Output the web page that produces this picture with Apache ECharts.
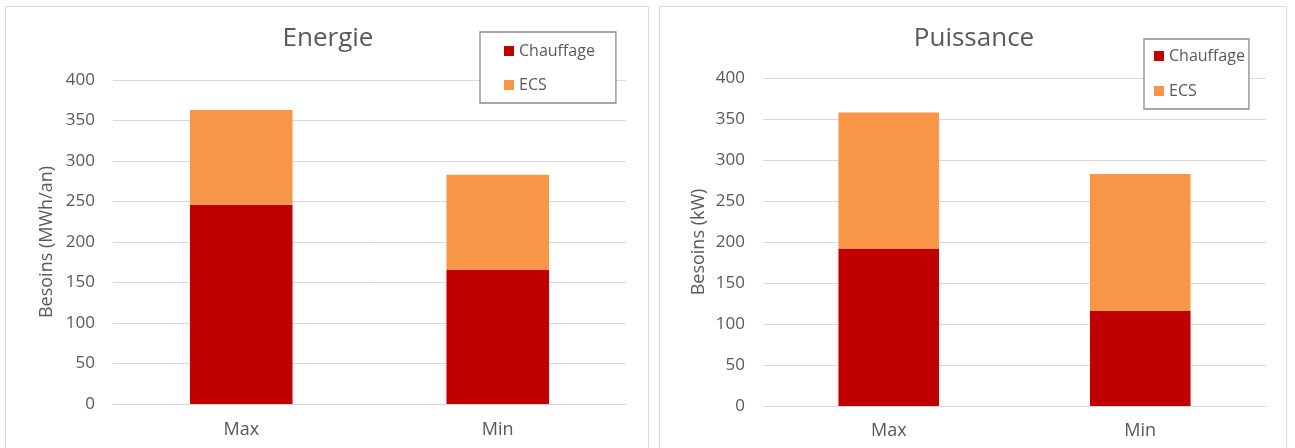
<!DOCTYPE html>
<html>
<head>
<meta charset="utf-8">
<script src="https://cdn.jsdelivr.net/npm/echarts@6/dist/echarts.min.js"></script>
<style>
  html, body { margin: 0; padding: 0; background: #ffffff; }
  #chart { width: 1295px; height: 448px; }
</style>
</head>
<body>
<div id="chart"></div>
<script>
// Categories and values (stacked: Chauffage + ECS)
const categories = ['Max', 'Min'];
const seriesNames = ['Chauffage', 'ECS'];

// Energie (MWh/an)
const energieChauffage = [246, 166];
const energieEcs = [117, 117];

// Puissance (kW)
const puissanceChauffage = [192, 116];
const puissanceEcs = [166, 167];

// Value axis range
const yMin = 0;
const yMax = 400;
const yStep = 50;

const FONT = '"Open Sans", "Noto Sans", sans-serif';
const TEXT = '#595959';
const GRID_LINE = '#d9d9d9';
const COLORS = ['#c00000', '#f79646'];

const chart = echarts.init(document.getElementById('chart'), null, { renderer: 'canvas' });

function valueAxis(gridIndex, name, nameGap) {
  return {
    type: 'value', gridIndex: gridIndex,
    min: yMin, max: yMax, interval: yStep,
    name: name, nameLocation: 'middle', nameGap: nameGap, nameRotate: 90,
    nameTextStyle: { fontFamily: FONT, fontSize: 18, color: TEXT },
    axisLine: { show: false }, axisTick: { show: false },
    axisLabel: { fontFamily: FONT, fontSize: 17, color: TEXT, margin: 18 },
    splitLine: { lineStyle: { color: GRID_LINE, width: 1 } }
  };
}

function categoryAxis(gridIndex, margin) {
  return {
    type: 'category', gridIndex: gridIndex, data: categories,
    axisLine: { lineStyle: { color: GRID_LINE, width: 1 } },
    axisTick: { show: false },
    axisLabel: { fontFamily: FONT, fontSize: 18, color: TEXT, margin: margin }
  };
}

function legend(left, top, padding, itemGap) {
  return {
    data: seriesNames, orient: 'vertical', left: left, top: top,
    padding: padding, itemGap: itemGap,
    itemWidth: 10, itemHeight: 10, icon: 'rect',
    backgroundColor: '#ffffff', borderColor: '#8a8a8a', borderWidth: 1.3,
    textStyle: { fontFamily: FONT, fontSize: 16, color: TEXT }
  };
}

function bar(name, data, axisIdx, stack, color) {
  return {
    type: 'bar', name: name, data: data, stack: stack,
    xAxisIndex: axisIdx, yAxisIndex: axisIdx,
    barWidth: '40%', itemStyle: { color: color }
  };
}

chart.setOption({
  animation: false,
  color: COLORS,
  graphic: [
    { type: 'rect', silent: true, z: -10,
      shape: { x: 5.5, y: 6.5, width: 643, height: 470 },
      style: { fill: '#ffffff', stroke: GRID_LINE, lineWidth: 1 } },
    { type: 'rect', silent: true, z: -10,
      shape: { x: 659.5, y: 6.5, width: 627, height: 470 },
      style: { fill: '#ffffff', stroke: GRID_LINE, lineWidth: 1 } }
  ],
  title: [
    { text: 'Energie', left: 328, top: 26, textAlign: 'center', padding: 0,
      textStyle: { fontFamily: FONT, fontSize: 26, fontWeight: 'normal', color: TEXT } },
    { text: 'Puissance', left: 974, top: 26, textAlign: 'center', padding: 0,
      textStyle: { fontFamily: FONT, fontSize: 26, fontWeight: 'normal', color: TEXT } }
  ],
  legend: [
    legend(480, 32, [11, 21, 10, 24], 18),
    legend(1144, 39, [9, 4, 10, 10], 19)
  ],
  grid: [
    { left: 113, right: 669, top: 80, bottom: 44, containLabel: false },
    { left: 763, right: 29, top: 78, bottom: 42, containLabel: false }
  ],
  xAxis: [categoryAxis(0, 17), categoryAxis(1, 16)],
  yAxis: [valueAxis(0, 'Besoins (MWh/an)', 57), valueAxis(1, 'Besoins (kW)', 55)],
  series: [
    bar(seriesNames[0], energieChauffage, 0, 'energie', COLORS[0]),
    bar(seriesNames[1], energieEcs, 0, 'energie', COLORS[1]),
    bar(seriesNames[0], puissanceChauffage, 1, 'puissance', COLORS[0]),
    bar(seriesNames[1], puissanceEcs, 1, 'puissance', COLORS[1])
  ]
});
</script>
</body>
</html>
